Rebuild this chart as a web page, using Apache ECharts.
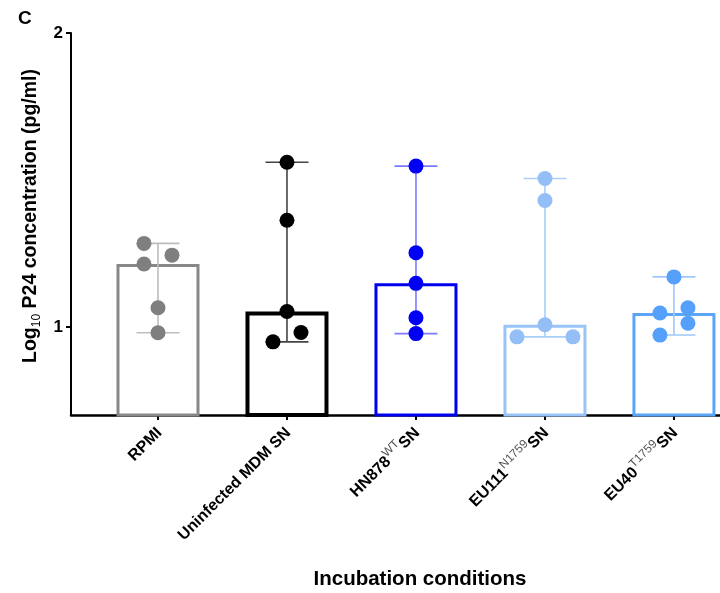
<!DOCTYPE html>
<html>
<head>
<meta charset="utf-8">
<script src="https://cdn.jsdelivr.net/npm/echarts@6/dist/echarts.min.js"></script>
<style>
  html, body { margin: 0; background: #fff; }
  #chart { width: 720px; height: 593px; }
</style>
</head>
<body>
<div id="chart"></div>
<script>
// values are log10 p24 (pg/ml)
const categories = ["RPMI", "Uninfected MDM SN", "HN878", "EU111", "EU40"];
const superscripts = ["", "", "WT", "N1759", "T1759"];
const medians = [1.214, 1.052, 1.148, 1.007, 1.047];
const rpmiPoints = [1.284, 1.244, 1.214, 1.065, 0.980];
const uninfectedPoints = [1.560, 1.363, 1.052, 0.981, 0.949];
const hn878Points = [1.547, 1.252, 1.148, 1.031, 0.977];
const eu111Points = [1.505, 1.430, 1.007, 0.966, 0.966];
const eu40Points = [1.170, 1.065, 1.047, 1.012, 0.972];
const yTicks = [1, 2];

const groups = [rpmiPoints, uninfectedPoints, hn878Points, eu111Points, eu40Points];
const catPos = categories.map(function (c, i) { return i; });

// styling
const pointColors = ["#7f7f7f", "#000000", "#0000f5", "#93bff6", "#55a0fb"];
const barColors = ["#888888", "#000000", "#0000f0", "#99c4f7", "#5ba5f7"];
const barBorder = [3, 4, 3, 3, 3];
const errColors = ["#bdbdbd", "#444444", "#7b7bff", "#a9cffa", "#9cc8fb"];
// horizontal jitter of the dots, px
const jitter = [
  [-14, 14, -14, 0, 0],
  [0, 0, 0, 14, -14],
  [0, 0, 0, 0, 0],
  [0, 0, 0, -28, 28],
  [0, 14, -14, 14, -14]
];
const capHalf = 21.5;
const font = "Liberation Sans, Arial, sans-serif";

const chart = echarts.init(document.getElementById("chart"));

const barData = medians.map(function (v, i) {
  return {
    value: [i, v],
    itemStyle: { color: "#fff", borderColor: barColors[i], borderWidth: barBorder[i] }
  };
});

const errData = groups.map(function (pts, i) {
  return [i, Math.min.apply(null, pts), Math.max.apply(null, pts)];
});

const dotData = [];
groups.forEach(function (pts, i) {
  pts.forEach(function (v, j) {
    dotData.push({
      value: [i, v],
      symbolOffset: [jitter[i][j], 0],
      itemStyle: { color: pointColors[i], opacity: 1 }
    });
  });
});

const option = {
  animation: false,
  backgroundColor: "#fff",
  title: [
    {
      text: "C",
      left: 13,
      top: 4,
      textStyle: { fontFamily: font, fontWeight: "bold", fontSize: 19, color: "#000" }
    },
    {
      text: "Incubation conditions",
      left: 415,
      top: 564,
      textAlign: "center",
      textStyle: { fontFamily: font, fontWeight: "bold", fontSize: 20.5, color: "#000" }
    }
  ],
  grid: { left: 71, right: 0, top: 33, bottom: 178 },
  xAxis: {
    type: "value",
    min: -0.6744,
    max: 4.357,
    axisLine: { show: true, onZero: false, lineStyle: { color: "#000", width: 2.5 } },
    axisTick: { show: true, customValues: catPos, length: 5, lineStyle: { color: "#000", width: 2 } },
    splitLine: { show: false },
    axisLabel: {
      customValues: catPos,
      rotate: 45,
      margin: 14,
      formatter: function (val) {
        const i = Math.round(val);
        if (superscripts[i]) {
          return "{b|" + categories[i] + "}{s|" + superscripts[i] + "}{b|SN}";
        }
        return "{b|" + categories[i] + "}";
      },
      rich: {
        b: { fontFamily: font, fontWeight: "bold", fontSize: 16, color: "#000", lineHeight: 20, verticalAlign: "bottom" },
        s: { fontFamily: font, fontSize: 12, color: "#555", lineHeight: 20, verticalAlign: "top" }
      }
    }
  },
  yAxis: {
    type: "value",
    min: 0.7,
    max: 2,
    axisLine: { show: true, onZero: false, lineStyle: { color: "#000", width: 2 } },
    axisTick: { show: true, length: 5, customValues: yTicks, lineStyle: { color: "#000", width: 2 } },
    axisLabel: {
      customValues: yTicks,
      margin: 8,
      fontFamily: font,
      fontWeight: "bold",
      fontSize: 17,
      color: "#000"
    },
    splitLine: { show: false },
    name: "{t|Log}{sub|10}{t| P24 concentration (pg/ml)}",
    nameLocation: "middle",
    nameRotate: 90,
    nameGap: 20,
    nameTextStyle: {
      padding: [0, 0, 0, 16],
      rich: {
        t: { fontFamily: font, fontWeight: "bold", fontSize: 19.5, color: "#000", lineHeight: 22, verticalAlign: "top" },
        sub: { fontFamily: font, fontSize: 12, color: "#000", lineHeight: 22, verticalAlign: "bottom" }
      }
    }
  },
  series: [
    {
      type: "bar",
      barWidth: 83,
      data: barData,
      z: 2
    },
    {
      type: "custom",
      z: 3,
      data: errData,
      renderItem: function (params, api) {
        const lo = api.coord([api.value(0), api.value(1)]);
        const hi = api.coord([api.value(0), api.value(2)]);
        const st = { stroke: errColors[params.dataIndex], lineWidth: 1.6 };
        return {
          type: "group",
          children: [
            { type: "line", shape: { x1: lo[0], y1: lo[1], x2: hi[0], y2: hi[1] }, style: st },
            { type: "line", shape: { x1: hi[0] - capHalf, y1: hi[1], x2: hi[0] + capHalf, y2: hi[1] }, style: st },
            { type: "line", shape: { x1: lo[0] - capHalf, y1: lo[1], x2: lo[0] + capHalf, y2: lo[1] }, style: st }
          ]
        };
      }
    },
    {
      type: "scatter",
      symbolSize: 15,
      z: 4,
      data: dotData
    }
  ]
};

chart.setOption(option);
</script>
</body>
</html>
